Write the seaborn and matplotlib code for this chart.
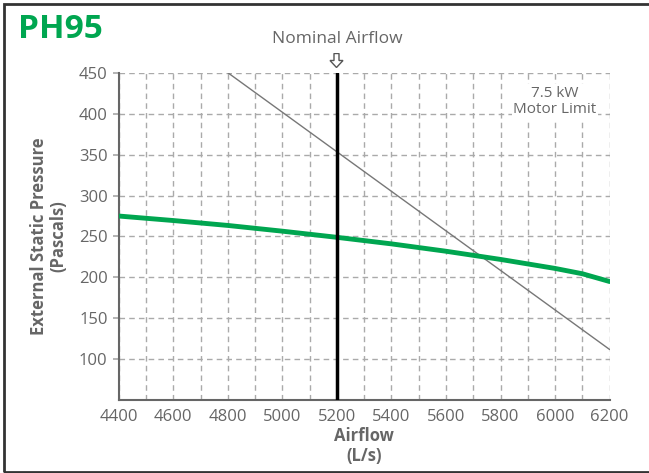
import matplotlib
matplotlib.use("Agg")
import matplotlib.pyplot as plt
import seaborn as sns
import pandas as pd
from matplotlib.patches import FancyArrow, Rectangle

sns.set_theme(style="white")
plt.rcParams['font.family'] = ['Open Sans', 'DejaVu Sans']

airflow = [4400, 4600, 4800, 5000, 5200, 5400, 5600, 5800, 6000, 6100, 6200]
pressure = [275, 269.5, 263.5, 256.5, 249, 241, 232, 222, 211, 204.5, 195]
motor_x = [4800, 6200]
motor_y = [450, 112]
nominal_x = 5200
x_ticks = [4400, 4600, 4800, 5000, 5200, 5400, 5600, 5800, 6000, 6200]
y_ticks = [100, 150, 200, 250, 300, 350, 400, 450]

GRAY = "#666666"
GREEN = "#00a650"

fig = plt.figure(figsize=(6.49, 4.73), dpi=100)
ax = fig.add_axes([0.1829, 0.1537, 0.9394 - 0.1829, 0.8463 - 0.1537])

df = pd.DataFrame({"Airflow": airflow, "Pressure": pressure})
dm = pd.DataFrame({"Airflow": motor_x, "Pressure": motor_y})

ax.set_xlim(4400, 6200)
ax.set_ylim(50, 450)
ax.set_xticks(x_ticks)
ax.set_yticks(y_ticks)
ax.set_xticks(range(4400, 6201, 100), minor=True)
ax.grid(True, which="both", axis="x", color="#aaaaaa", linestyle=(0, (4, 3)), linewidth=1)
ax.grid(True, which="major", axis="y", color="#aaaaaa", linestyle=(0, (4, 3)), linewidth=1)
ax.set_axisbelow(True)

sns.lineplot(data=dm, x="Airflow", y="Pressure", ax=ax, color="#777777", linewidth=1.0, zorder=3)
sns.lineplot(data=df, x="Airflow", y="Pressure", ax=ax, color=GREEN, linewidth=3.5, zorder=4)
ax.axvline(nominal_x, color="black", linewidth=2.5, zorder=5)

for s in ["top", "right"]:
    ax.spines[s].set_visible(False)
for s in ["left", "bottom"]:
    ax.spines[s].set_color("#666666")
    ax.spines[s].set_linewidth(1.5)

ax.tick_params(axis="y", which="major", length=4, color="#aaaaaa", labelsize=12, labelcolor=GRAY, pad=4, left=True)
ax.tick_params(axis="x", which="both", length=0, labelsize=12, labelcolor=GRAY, pad=6)

ax.set_xlabel("Airflow\n(L/s)", fontsize=12, fontweight="bold", color=GRAY, labelpad=2, linespacing=1.1)
ax.set_ylabel("External Static Pressure\n(Pascals)", fontsize=12, fontweight="bold", color=GRAY, labelpad=8, linespacing=1.1)

ax.text(6000, 415, "7.5 kW\nMotor Limit", ha="center", va="center", fontsize=11, color=GRAY,
        linespacing=1.15, bbox=dict(facecolor="white", edgecolor="none", pad=1), zorder=6)

ax.annotate("Nominal Airflow", xy=(nominal_x, 450), xycoords="data",
            xytext=(0, 24), textcoords="offset points", ha="center", va="center",
            fontsize=12.5, color=GRAY, annotation_clip=False)

arrow_ax = fig.add_axes([(336.5 - 10) / 649, 1 - 68 / 473, 20 / 649, 15 / 473])
arrow_ax.set_xlim(-10, 10); arrow_ax.set_ylim(0, 15); arrow_ax.axis("off")
arrow_ax.add_patch(FancyArrow(0, 14.5, 0, -14, width=5, head_width=13, head_length=7,
                              length_includes_head=True, facecolor="white", edgecolor="#555555", linewidth=1))

fig.text(18/649, 1 - 29/473, "PH95", fontsize=24, fontweight="bold", color=GREEN, ha="left", va="center")

fig.patches.append(Rectangle((4/649, 1 - 472/473), 1.2, 468/473, transform=fig.transFigure,
                             fill=False, edgecolor="#333333", linewidth=2, zorder=0))

fig.savefig("out.png", dpi=100)
